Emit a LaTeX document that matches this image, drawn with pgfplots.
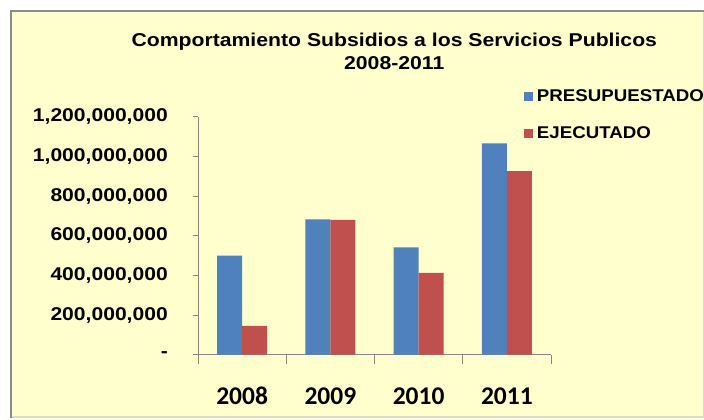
\documentclass[border=0pt]{standalone}
\usepackage{pgfplots}
\pgfplotsset{compat=1.18}
\usepackage{fontspec}
\setmainfont{Liberation Sans}
\newfontfamily\arialw[FakeStretch=1.14]{Liberation Sans}
\newfontfamily\ariall[FakeStretch=1.10]{Liberation Sans}
\newfontfamily\calib{Carlito}
\definecolor{bgyellow}{RGB}{255,255,206}
\definecolor{barblue}{RGB}{79,129,189}
\definecolor{barred}{RGB}{192,80,77}
\definecolor{axgray}{RGB}{134,134,134}
\definecolor{framegray}{RGB}{140,140,140}
\definecolor{frameedge}{RGB}{222,222,190}

\begin{document}
\begin{tikzpicture}
  \path[use as bounding box] (0,0) rectangle (704bp,420bp);
  \fill[white] (0,0) rectangle (704bp,420bp);
  \fill[bgyellow] (10bp,2bp) rectangle (704bp,410bp);
  \draw[frameedge, line width=1.5bp] (11bp,2.75bp) -- (703.25bp,2.75bp) -- (703.25bp,409bp);
  \draw[framegray, line width=2bp] (11bp,2bp) -- (11bp,409bp) -- (704bp,409bp);
  \begin{axis}[
      at={(198bp,65.3bp)}, anchor=south west,
      scale only axis, width=353bp, height=238bp,
      ybar=0pt, bar width=25bp,
      xmin=-0.5, xmax=3.5, ymin=0, ymax=1200000000,
      scaled y ticks=false,
      axis lines=left,
      axis line style={-, draw=axgray, line width=1bp},
      tick align=outside,
      major tick length=5bp, minor tick length=9bp,
      tick style={draw=axgray, line width=1bp},
      every major x tick/.append style={draw opacity=0},
      xtick={0,1,2,3},
      xticklabels={2008,2009,2010,2011},
      minor xtick={-0.5,0.5,1.5,2.5,3.5},
      ytick={0,200000000,400000000,600000000,800000000,1000000000,1200000000},
      yticklabels={{-\hspace{11bp}},{200,000,000},{400,000,000},{600,000,000},
                   {800,000,000},{1,000,000,000},{1,200,000,000}},
      xticklabel style={font=\calib\bfseries\fontsize{25.5bp}{26bp}\selectfont,
                        anchor=base, inner sep=0pt, yshift=-44.6bp},
      yticklabel style={font=\arialw\bfseries\fontsize{18.5bp}{20bp}\selectfont,
                        anchor=east, inner sep=0pt, xshift=-25bp},
      title={Comportamiento Subsidios a los Servicios Publicos\\2008-2011},
      title style={at={(0.556,1)}, anchor=south, yshift=40.4bp, inner sep=0pt,
                   align=center,
                   font=\arialw\bfseries\fontsize{18.6bp}{23.6bp}\selectfont},
      legend style={at={(0.922,1.115)}, anchor=north west, draw=none, fill=none,
                    inner sep=0pt, row sep=24bp, column sep=4bp,
                    nodes={inner sep=0pt},
                    font=\ariall\bfseries\fontsize{17bp}{18bp}\selectfont},
      legend cell align=left,
      legend image code/.code={\fill[#1] (0bp,-4.65bp) rectangle (9.3bp,4.65bp);},
    ]
    \addplot[fill=barblue, draw=none] coordinates
      {(0,500000000) (1,682000000) (2,541000000) (3,1066000000)};
    \addplot[fill=barred, draw=none] coordinates
      {(0,145000000) (1,680000000) (2,412000000) (3,925000000)};
    \legend{PRESUPUESTADO, EJECUTADO}
  \end{axis}
\end{tikzpicture}
\end{document}
